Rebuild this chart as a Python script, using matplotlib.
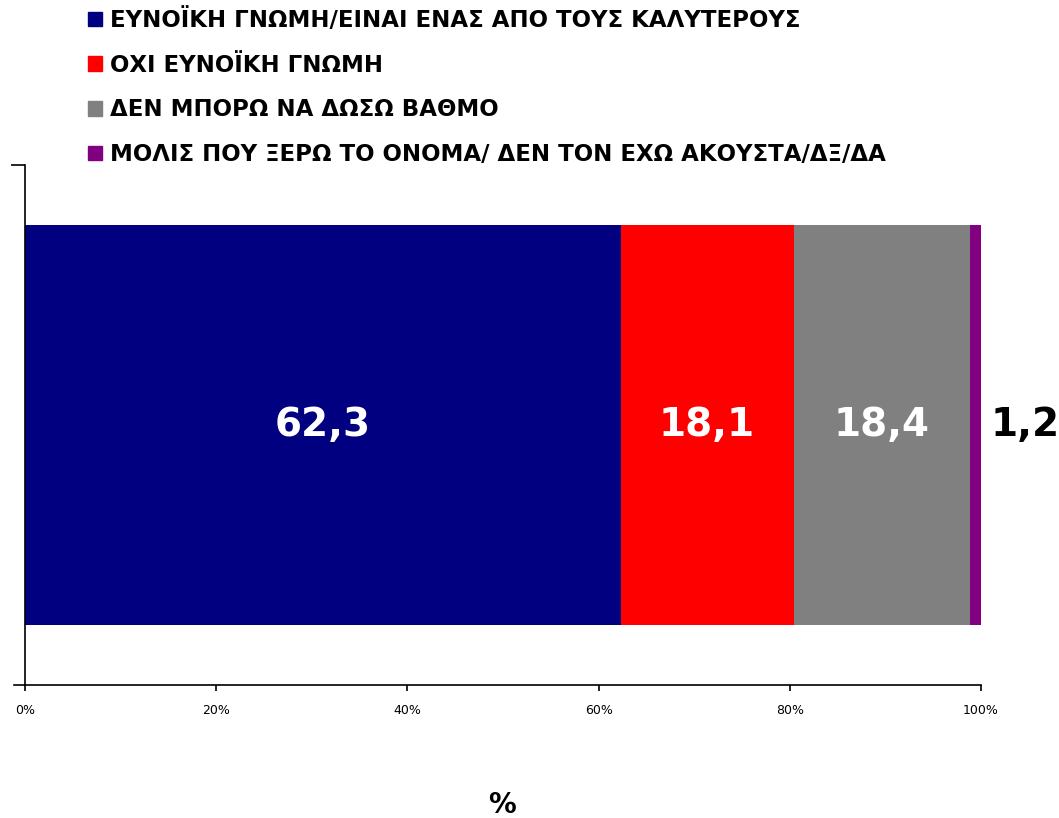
import matplotlib.pyplot as plt
from matplotlib.patches import Patch

labels = ["ΕΥΝΟΪΚΗ ΓΝΩΜΗ/ΕΙΝΑΙ ΕΝΑΣ ΑΠΟ ΤΟΥΣ ΚΑΛΥΤΕΡΟΥΣ",
          "ΟΧΙ ΕΥΝΟΪΚΗ ΓΝΩΜΗ",
          "ΔΕΝ ΜΠΟΡΩ ΝΑ ΔΩΣΩ ΒΑΘΜΟ",
          "ΜΟΛΙΣ ΠΟΥ ΞΕΡΩ ΤΟ ΟΝΟΜΑ/ ΔΕΝ ΤΟΝ ΕΧΩ ΑΚΟΥΣΤΑ/ΔΞ/ΔΑ"]
values = [62.3, 18.1, 18.4, 1.2]
colors = ["#000080", "#FF0000", "#808080", "#800080"]
ticks = [0, 20, 40, 60, 80, 100]

fig = plt.figure(figsize=(10.59, 8.18), dpi=100)
ax = fig.add_axes([25 / 1059, 1 - 685 / 818, 956 / 1059, 520 / 818])

left = 0
for v, c, lab in zip(values, colors, labels):
    ax.barh(0, v, left=left, height=1.0, color=c, label=lab)
    if v > 5:
        ax.text(left + v / 2, 0, f"{v:.1f}".replace(".", ","), ha="center", va="center",
                color="white", fontsize=28, fontweight="bold")
    else:
        ax.text(left + v + 1.0, 0, f"{v:.1f}".replace(".", ","), ha="left", va="center",
                color="black", fontsize=28, fontweight="bold", clip_on=False)
    left += v

ax.set_xlim(0, 100)
ax.set_ylim(-0.65, 0.65)
ax.set_xticks(ticks)
ax.set_xticklabels([f"{t}%" for t in ticks], fontsize=9)
ax.set_yticks([0.65])
ax.set_yticklabels([])
ax.tick_params(axis="x", direction="out", length=4, width=1.2, pad=10)
ax.tick_params(axis="y", direction="out", length=10, width=1.2)
ax.spines["top"].set_visible(False)
ax.spines["right"].set_visible(False)
ax.spines["left"].set_linewidth(1.2)
ax.spines["bottom"].set_linewidth(1.2)
ax.spines["bottom"].set_bounds(-1.2, 100)

fig.text(502 / 1059, 1 - 805 / 818, "%", ha="center", va="center", fontsize=20, fontweight="bold")

handles = [Patch(color=c) for c in colors]
fig.legend(handles, labels, loc="upper left", bbox_to_anchor=(88 / 1059, 1 - 8 / 818),
           frameon=False, borderpad=0, borderaxespad=0, handlelength=0.6, handleheight=0.6,
           handletextpad=0.35, labelspacing=0.95, prop={"weight": "bold", "size": 16.5})

fig.savefig("out.png", dpi=100)
